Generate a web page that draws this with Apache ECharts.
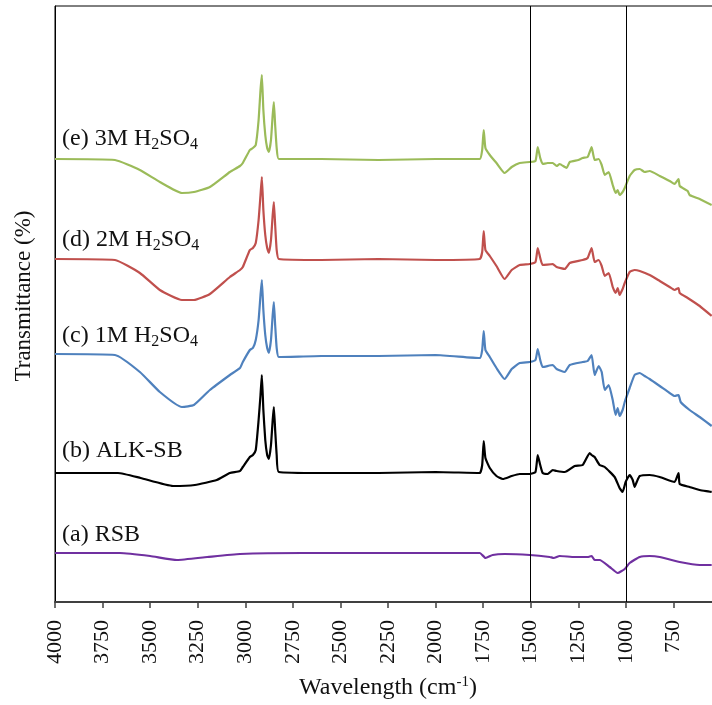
<!DOCTYPE html>
<html>
<head>
<meta charset="utf-8">
<script src="https://cdn.jsdelivr.net/npm/echarts@6/dist/echarts.min.js"></script>
<style>html,body{margin:0;padding:0;background:#fff}#c{width:712px;height:705px}</style>
</head>
<body>
<div id="c"></div>
<script>
// Wavenumber ticks (cm-1)
var xTicks = [4000,3750,3500,3250,3000,2750,2500,2250,2000,1750,1500,1250,1000,750];
var refLines = [1500, 1000];
var seriesNames = ['(e) 3M H2SO4','(d) 2M H2SO4','(c) 1M H2SO4','(b) ALK-SB','(a) RSB'];

// [wavenumber, transmittance (arbitrary, offset)]
var specE = [[4000,443],[3685,442],[3554,432],[3449,420],[3333,409],[3270,410],[3186,415],[3081,430],[3028,436],[3013,439],[2976,452],[2960,454],[2945,457],[2930,482],[2920,512],[2913,527],[2905,492],[2895,467],[2885,454],[2876,450],[2865,462],[2856,487],[2850,500],[2843,477],[2835,454],[2824,443],[2600,443],[2300,442],[2000,443],[1768,443],[1755,452],[1747,472],[1738,454],[1715,447],[1680,439],[1637,429],[1600,435],[1558,439],[1505,440],[1475,441],[1463,455],[1450,444],[1437,438],[1411,439],[1384,439],[1364,436],[1348,438],[1321,435],[1311,434],[1295,440],[1250,442],[1227,444],[1201,445],[1190,450],[1180,455],[1164,442],[1143,443],[1127,437],[1111,427],[1090,430],[1069,417],[1054,409],[1043,412],[1033,407],[1017,410],[1006,414],[980,426],[954,432],[927,433],[901,430],[875,431],[822,426],[770,421],[744,418],[723,423],[717,416],[675,411],[665,407],[612,403],[549,397]];
var specD = [[4000,343],[3685,342],[3554,329],[3449,312],[3333,302],[3270,302],[3186,308],[3081,325],[3028,332],[3013,335],[2976,352],[2960,354],[2945,359],[2930,382],[2920,407],[2913,425],[2905,392],[2895,367],[2885,354],[2876,349],[2865,362],[2856,387],[2850,400],[2843,377],[2835,352],[2824,343],[2600,342],[2300,343],[2000,342],[1768,343],[1755,350],[1747,371],[1738,352],[1715,346],[1680,336],[1637,323],[1600,332],[1558,337],[1505,338],[1475,340],[1463,354],[1450,344],[1437,337],[1384,338],[1364,335],[1321,333],[1295,339],[1227,342],[1201,344],[1180,354],[1164,340],[1143,342],[1127,336],[1111,326],[1090,329],[1069,315],[1054,309],[1043,314],[1033,307],[1017,313],[1006,319],[980,330],[954,332],[927,331],[875,327],[822,321],[770,315],[744,312],[723,314],[717,309],[675,304],[612,296],[549,286]];
var specC = [[4000,248],[3685,247],[3554,230],[3449,210],[3333,195],[3270,197],[3186,212],[3081,227],[3028,234],[3013,240],[2976,252],[2960,254],[2945,262],[2930,282],[2920,307],[2913,322],[2905,292],[2895,267],[2885,254],[2876,249],[2865,262],[2856,287],[2850,300],[2843,277],[2835,254],[2824,245],[2600,246],[2300,246],[2000,247],[1768,244],[1755,252],[1747,271],[1738,252],[1715,245],[1680,234],[1637,223],[1600,233],[1558,239],[1505,240],[1475,242],[1463,253],[1450,242],[1437,235],[1384,237],[1364,233],[1321,230],[1295,237],[1227,240],[1201,241],[1180,247],[1164,227],[1143,236],[1127,230],[1111,212],[1090,217],[1069,202],[1054,187],[1043,194],[1033,186],[1017,192],[1006,200],[980,214],[954,227],[927,229],[901,226],[875,223],[822,216],[770,209],[744,206],[723,207],[712,200],[665,192],[612,185],[549,176]];
var specB = [[4000,129],[3669,129],[3550,124],[3380,116],[3265,117],[3150,122],[3081,129],[3028,131],[3013,135],[2976,145],[2960,147],[2945,152],[2930,182],[2920,207],[2913,227],[2905,192],[2895,162],[2885,147],[2876,143],[2865,157],[2856,182],[2850,195],[2843,172],[2835,147],[2824,130],[2600,129],[2300,129],[2000,130],[1768,129],[1755,137],[1747,161],[1738,144],[1715,134],[1680,126],[1647,123],[1600,126],[1558,128],[1505,128],[1475,130],[1463,147],[1450,137],[1437,129],[1411,128],[1384,132],[1364,131],[1321,130],[1269,136],[1227,137],[1190,149],[1180,147],[1164,145],[1138,137],[1111,135],[1059,125],[1033,114],[1017,110],[1001,120],[980,127],[964,122],[954,115],[943,120],[927,126],[875,127],[822,125],[744,120],[723,129],[717,118],[665,115],[612,112],[549,110]];
var specA = [[4000,49],[3659,49],[3500,46],[3359,42],[3200,45],[3028,48],[2700,49],[2000,49],[1768,49],[1737,44],[1700,47],[1637,48],[1505,47],[1400,45],[1379,44],[1348,46],[1269,45],[1201,45],[1180,46],[1164,42],[1138,42],[1085,35],[1043,29],[1006,33],[980,39],[927,45],[875,46],[822,45],[717,40],[612,37],[549,37]];

var colors = ['#9BBB59','#C0504D','#4F81BD','#000000','#7030A0'];
var specs = [specE, specD, specC, specB, specA];

var FONT = "'Liberation Serif','Times New Roman',serif";
var chart = echarts.init(document.getElementById('c'));

var series = specs.map(function(d, i){
  var s = {
    name: seriesNames[i], type: 'line', data: d, showSymbol: false, symbol: 'none',
    smooth: 0.15,
    lineStyle: {color: colors[i], width: 2.2}, itemStyle: {color: colors[i]},
    clip: true, silent: true, animation: false
  };
  if (i === 0) {
    s.markLine = {
      silent: true, symbol: ['none','none'], label: {show: false},
      lineStyle: {color: '#000', width: 1, type: 'solid'},
      data: refLines.map(function(v){ return {xAxis: v}; }),
      animation: false
    };
  }
  return s;
});

var sub = {fontSize: 16, fontFamily: FONT, color: '#111', padding: [12,0,0,0]};
var base = {fontSize: 24, fontFamily: FONT, color: '#111'};
function lbl(txt, y){
  return {type: 'text', x: 62, y: y, silent: true,
    style: {text: txt, fill: '#111', font: '24px ' + FONT, verticalAlign: 'middle', align: 'left',
      rich: {n: base, s: sub}}};
}

chart.setOption({
  animation: false,
  grid: {left: 55, right: -9, top: 6, bottom: 103, show: true, borderColor: '#000', borderWidth: 1,
    containLabel: false, outerBoundsMode: 'none'},
  xAxis: {
    type: 'value', inverse: true, min: 500, max: 4000, interval: 250,
    axisLine: {show: true, lineStyle: {color: '#404040', width: 2}},
    axisTick: {show: true, inside: false, length: 6, lineStyle: {color: '#404040', width: 1.5}},
    splitLine: {show: false},
    axisLabel: {rotate: 90, margin: 18, fontSize: 22, fontFamily: FONT, color: '#111',
      formatter: function(v){ return xTicks.indexOf(v) >= 0 ? String(v) : ''; }},
    name: '{n|Wavelength (cm}{p|-1}{n|)}', nameLocation: 'middle', nameGap: 73,
    nameTextStyle: {rich: {n: {fontSize: 24, fontFamily: FONT, color: '#111'}, p: {fontSize: 15, fontFamily: FONT, color: '#111', padding: [0,0,10,0]}}}
  },
  yAxis: {
    type: 'value', min: 0, max: 596,
    axisLine: {show: true, lineStyle: {color: '#000', width: 1}},
    axisTick: {show: false}, axisLabel: {show: false}, splitLine: {show: false},
    name: 'Transmittance (%)', nameLocation: 'middle', nameGap: 20,
    nameTextStyle: {fontSize: 23, fontFamily: FONT, color: '#111', padding: [0,0,0,16]}
  },
  series: series,
  graphic: [
    lbl('{n|(e) 3M H}{s|2}{n|SO}{s|4}', 139),
    lbl('{n|(d) 2M H}{s|2}{n|SO}{s|4}', 240),
    lbl('{n|(c) 1M H}{s|2}{n|SO}{s|4}', 336),
    lbl('{n|(b) ALK-SB}', 451),
    lbl('{n|(a) RSB}', 535)
  ]
});
</script>
</body>
</html>
